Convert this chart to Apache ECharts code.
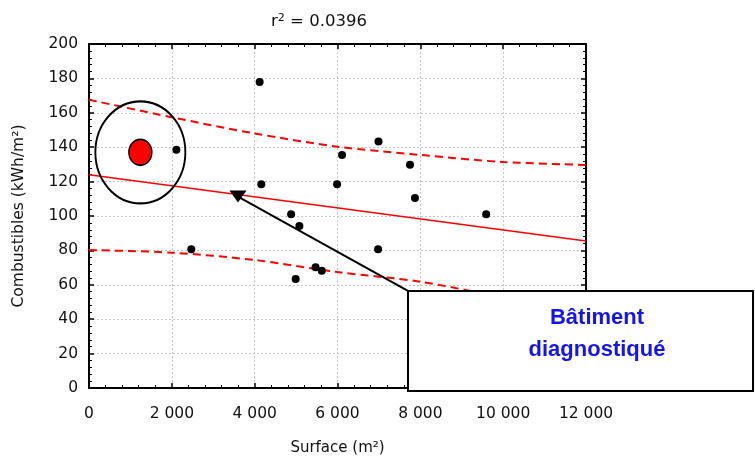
<!DOCTYPE html>
<html><head><meta charset="utf-8">
<script src="https://cdn.jsdelivr.net/npm/echarts@6/dist/echarts.min.js"></script>
<style>html,body{margin:0;padding:0;background:#fff}#c{width:755px;height:458px}</style>
</head><body><div id="c"></div>
<script>
// Data points (surface m², combustibles kWh/m²)
const surface = [2110, 2470, 4120, 4160, 4880, 4990, 5080, 5470, 5620, 5990, 6110, 6990, 6980, 7750, 7870, 9590];
const combust = [138.5, 80.6, 177.9, 118.4, 101, 63.4, 94.2, 70.2, 68.2, 118.4, 135.5, 143.3, 80.6, 129.8, 110.5, 101];
// Diagnosed building
const diagX = [1240];
const diagY = [137];
// Regression line
const regX = [0, 12000];
const regY = [124, 85.5];
// Confidence band
const bandX = [0, 2000, 4000, 6000, 8000, 10000, 12000];
const upperY = [167.6, 157.4, 148, 140.3, 135.5, 131.4, 129.7];
const lowerY = [80.2, 78.7, 74.4, 67.4, 61.8, 52.4, 41.3];
// Arrow from label box to point
const arrowX = [7690, 3597];
const arrowY = [56.6, 111.3];
const xTicks = [0, 2000, 4000, 6000, 8000, 10000, 12000];
const yTicks = [0, 20, 40, 60, 80, 100, 120, 140, 160, 180, 200];

const FONT = 'DejaVu Sans';
const zip = (a, b) => a.map((v, i) => [v, b[i]]);
const fmt = v => String(v).replace(/\B(?=(\d{3})+(?!\d))/g, ' ');

const chart = echarts.init(document.getElementById('c'));
const baseAxis = {
  axisLine: {show: true, onZero: false, lineStyle: {color: '#000', width: 2}},
  axisTick: {show: true, inside: true, length: 5, lineStyle: {color: '#000', width: 1.5}},
  minorTick: {show: true, splitNumber: 5, length: 3, lineStyle: {color: '#000', width: 1}},
};
chart.setOption({
  animation: false,
  textStyle: {fontFamily: FONT},
  title: {
    text: 'r{s|2} = 0.0396', left: 314, top: 8, textAlign: 'center',
    textStyle: {fontFamily: FONT, fontSize: 16.5, fontWeight: 'normal', color: '#111',
      rich: {s: {fontFamily: FONT, fontSize: 11, verticalAlign: 'top', padding: [0,0,7,0], color: '#111'}}}
  },
  grid: {left: 89, right: 169, top: 44, bottom: 70, containLabel: false, outerBoundsMode: 'none'},
  xAxis: [
    Object.assign({}, baseAxis, {
      type: 'value', min: xTicks[0], max: xTicks[xTicks.length - 1], interval: 2000,
      name: 'Surface (m²)', nameLocation: 'middle', nameGap: 53,
      nameTextStyle: {fontFamily: FONT, fontSize: 15, color: '#111'},
      axisLabel: {fontFamily: FONT, fontSize: 15.5, color: '#111', margin: 18, formatter: fmt},
      splitLine: {show: true, lineStyle: {color: '#c8c8c8', type: [2, 2], width: 1}}
    }),
    Object.assign({}, baseAxis, {
      type: 'value', position: 'top', min: xTicks[0], max: xTicks[xTicks.length - 1], interval: 2000,
      axisLabel: {show: false}, splitLine: {show: false}
    })
  ],
  yAxis: [
    Object.assign({}, baseAxis, {
      type: 'value', min: yTicks[0], max: yTicks[yTicks.length - 1], interval: 20,
      name: 'Combustibles (kWh/m²)', nameLocation: 'middle', nameGap: 62,
      nameTextStyle: {fontFamily: FONT, fontSize: 15.5, color: '#111'},
      axisLabel: {fontFamily: FONT, fontSize: 15.5, color: '#111', margin: 11},
      splitLine: {show: true, lineStyle: {color: '#c8c8c8', type: [2, 2], width: 1}}
    }),
    Object.assign({}, baseAxis, {
      type: 'value', position: 'right', min: yTicks[0], max: yTicks[yTicks.length - 1], interval: 20,
      axisLabel: {show: false}, splitLine: {show: false}
    })
  ],
  series: [
    {type: 'line', data: zip(bandX, upperY), smooth: 0.3, showSymbol: false,
      lineStyle: {color: '#ff0000', width: 2, type: [8, 5]}, z: 3},
    {type: 'line', data: zip(bandX, lowerY), smooth: 0.3, showSymbol: false,
      lineStyle: {color: '#ff0000', width: 2, type: [8, 5]}, z: 3},
    {type: 'line', data: zip(regX, regY), showSymbol: false,
      lineStyle: {color: '#ff0000', width: 1.5}, z: 3},
    {type: 'scatter', data: zip(surface, combust), symbol: 'circle', symbolSize: 8,
      itemStyle: {color: '#000', opacity: 1}, z: 5},
    {type: 'scatter', data: zip(diagX, diagY), symbol: 'circle', symbolSize: [90, 102],
      itemStyle: {color: 'rgba(0,0,0,0)', borderColor: '#000', borderWidth: 2, opacity: 1}, z: 4, silent: true},
    {type: 'scatter', data: zip(diagX, diagY), symbol: 'circle', symbolSize: [23, 26],
      itemStyle: {color: '#ff0000', borderColor: '#000', borderWidth: 1.5, opacity: 1}, z: 6},
    {type: 'line', data: zip(arrowX, arrowY), showSymbol: false, clip: false,
      lineStyle: {color: '#000', width: 2}, z: 7},
    {type: 'scatter', data: [[arrowX[1], arrowY[1]]], symbol: 'triangle', symbolRotate: 180,
      symbolSize: [17, 12], itemStyle: {color: '#000', opacity: 1}, z: 8}
  ],
  graphic: [
    {type: 'group', z: 100, children: [
      {type: 'rect', shape: {x: 408, y: 291, width: 345, height: 100},
        style: {fill: '#fff', stroke: '#000', lineWidth: 2}, z: 100},
      {type: 'text', x: 597, y: 318, z: 101,
        style: {text: 'Bâtiment', fill: '#1414f0', font: 'bold 22px "Liberation Sans"', textAlign: 'center', textVerticalAlign: 'middle'}},
      {type: 'text', x: 597, y: 350, z: 101,
        style: {text: 'diagnostiqué', fill: '#1414f0', font: 'bold 22px "Liberation Sans"', textAlign: 'center', textVerticalAlign: 'middle'}}
    ]}
  ]
});
</script></body></html>
